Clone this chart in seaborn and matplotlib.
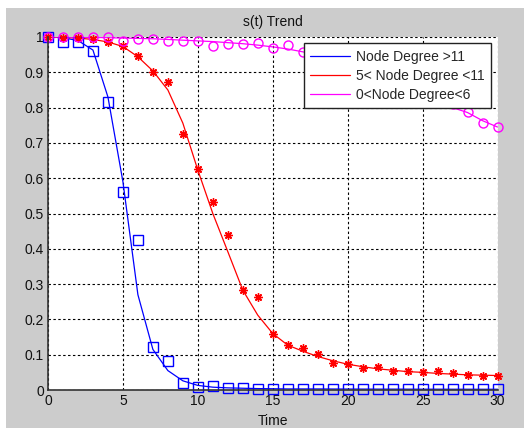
import matplotlib
matplotlib.use("Agg")
import matplotlib.pyplot as plt
import seaborn as sns
from matplotlib.patches import Rectangle

# time steps
t = list(range(31))

# fitted curves
blue_line = [1.0, 0.998, 0.99, 0.963, 0.83, 0.59, 0.27, 0.115, 0.055, 0.026,
             0.013, 0.008, 0.006, 0.005, 0.004, 0.0035, 0.003, 0.003, 0.003, 0.0028,
             0.0027, 0.0026, 0.0025, 0.0025, 0.0024, 0.0023, 0.0023, 0.0022, 0.0022, 0.0021,
             0.0021]
red_line = [1.0, 0.999, 0.997, 0.993, 0.986, 0.973, 0.944, 0.904, 0.85, 0.756,
            0.623, 0.5, 0.392, 0.283, 0.212, 0.16, 0.127, 0.11, 0.095, 0.083,
            0.073, 0.066, 0.06, 0.056, 0.052, 0.05, 0.047, 0.045, 0.043, 0.042,
            0.041]
mag_line = [1.0, 1.0, 0.999, 0.999, 0.998, 0.997, 0.996, 0.995, 0.993, 0.991,
            0.989, 0.987, 0.984, 0.981, 0.977, 0.972, 0.966, 0.958, 0.948, 0.937,
            0.924, 0.91, 0.894, 0.876, 0.857, 0.836, 0.812, 0.8, 0.786, 0.763,
            0.745]

# simulated points
blue_pts = [1.0, 0.985, 0.987, 0.961, 0.815, 0.56, 0.425, 0.121, 0.083, 0.019,
            0.009, 0.012, 0.007, 0.007, 0.004, 0.004, 0.004, 0.004, 0.004, 0.004,
            0.004, 0.004, 0.004, 0.004, 0.004, 0.004, 0.004, 0.004, 0.004, 0.004,
            0.004]
red_pts = [1.0, 0.998, 0.998, 0.993, 0.985, 0.975, 0.945, 0.9, 0.872, 0.725,
           0.625, 0.532, 0.439, 0.283, 0.264, 0.158, 0.127, 0.118, 0.101, 0.076,
           0.073, 0.063, 0.065, 0.055, 0.054, 0.05, 0.054, 0.047, 0.042, 0.041,
           0.041]
mag_pts = [1.0, 0.999, 1.0, 1.0, 1.0, 0.989, 0.993, 0.993, 0.99, 0.99,
           0.99, 0.975, 0.98, 0.979, 0.984, 0.97, 0.977, 0.958, 0.95, 0.94,
           0.925, 0.91, 0.895, 0.875, 0.86, 0.84, 0.82, 0.81, 0.788, 0.755,
           0.745]

labels = ["Node Degree >11", "5< Node Degree <11", "0<Node Degree<6"]
colors = ["#0000ff", "#ff0000", "#ff00ff"]

sns.set_theme(style="white")
plt.rcParams["font.family"] = ["Liberation Sans", "DejaVu Sans"]
plt.rcParams["font.size"] = 10

fig = plt.figure(figsize=(5.24, 4.30), dpi=100, facecolor="white")
bg = Rectangle((6 / 524, 2 / 430), 518 / 524, 420 / 430,
               transform=fig.transFigure, facecolor="#cccccc",
               edgecolor="none", zorder=-10)
fig.add_artist(bg)
ax = fig.add_axes([48 / 524, 40 / 430, 449.5 / 524, 353 / 430])
ax.set_zorder(1)
ax.set_facecolor("white")

for line_y, col, lab in zip([blue_line, red_line, mag_line], colors, labels):
    sns.lineplot(x=t, y=line_y, ax=ax, color=col, linewidth=0.9, label=lab)

markers = ["s", (8, 2, 0), "o"]
sizes = [7, 6, 6.5]
for pts, col, mk, ms in zip([blue_pts, red_pts, mag_pts], colors, markers, sizes):
    sns.lineplot(x=t, y=pts, ax=ax, linestyle="", marker=mk, markersize=ms,
                 markerfacecolor="none", markeredgecolor=col,
                 markeredgewidth=1.0, clip_on=False, legend=False)

ax.set_xlim(0, 30)
ax.set_ylim(0, 1)
ax.set_xticks(range(0, 31, 5))
ax.set_yticks([i / 10 for i in range(11)])
ax.set_yticklabels(["0", "0.1", "0.2", "0.3", "0.4", "0.5", "0.6", "0.7", "0.8", "0.9", "1"])
ax.tick_params(direction="in", length=3, width=0.6, colors="#222222", labelsize=10,
               labelcolor="#111111", pad=3)
ax.grid(True, color="black", linestyle=(0, (2.2, 2.2)), linewidth=0.8)
for side in ["top", "right"]:
    ax.spines[side].set_visible(False)
for side in ["left", "bottom"]:
    ax.spines[side].set_color("#333333")
    ax.spines[side].set_linewidth(1.2)

ax.set_title("s(t) Trend", fontsize=10, pad=8, color="#111111")
ax.set_xlabel("Time", fontsize=10, labelpad=4, color="#111111")
ax.set_ylabel("")

leg = ax.legend(loc="upper right", bbox_to_anchor=(0.985, 0.982), fontsize=10,
                frameon=True, fancybox=False, framealpha=1, edgecolor="#222222",
                handlelength=2.9, handletextpad=0.4, borderpad=0.45,
                labelspacing=0.38, borderaxespad=0)
leg.get_frame().set_linewidth(1.0)
leg.set_zorder(10)

fig.savefig("out.png", dpi=100, facecolor="white")
